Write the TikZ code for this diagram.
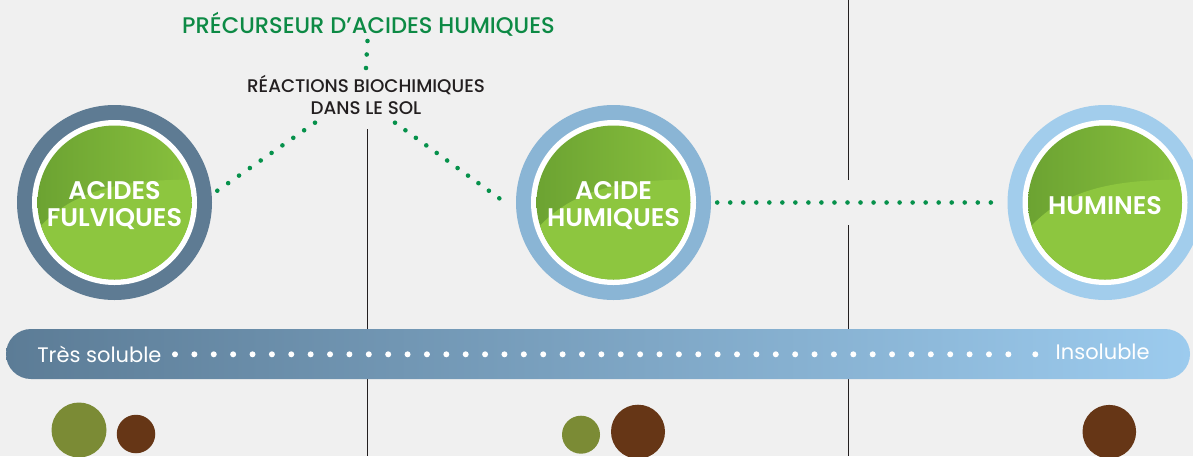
\documentclass[tikz,border=0pt]{standalone}
\usepackage{fontspec}
\setmainfont{Poppins}
\newfontfamily\poppinsmoyen{Poppins Medium}
\newfontfamily\poppinsdemi{Poppins SemiBold}
\usepackage{tikz}
\usetikzlibrary{calc}

\definecolor{fond}{HTML}{F0F0F0}
\definecolor{anneauA}{HTML}{5E7B93}
\definecolor{anneauB}{HTML}{8AB5D5}
\definecolor{anneauC}{HTML}{A2CDEC}
\definecolor{vertA}{HTML}{6CA332}
\definecolor{vertB}{HTML}{88C03D}
\definecolor{vertC}{HTML}{8DC63F}
\definecolor{vertTexte}{HTML}{0D8A45}
\definecolor{pointvert}{HTML}{06914B}
\definecolor{noirTexte}{HTML}{231F20}
\definecolor{barreA}{HTML}{5C7C96}
\definecolor{barreB}{HTML}{9CCBEE}
\definecolor{olive}{HTML}{7B8B35}
\definecolor{brun}{HTML}{663616}

% green disc with its lighter lower part
\newcommand{\disque}[1]{%
	\begin{scope}
		\clip (#1) circle (77);
		\shade[left color=vertA, right color=vertB] ($(#1)+(-77,-77)$) rectangle ($(#1)+(77,77)$);
		\fill[vertC] ($(#1)+(-90,45)$) .. controls ($(#1)+(-50,-20)$) and ($(#1)+(20,-23)$) .. ($(#1)+(90,-23)$) -- ($(#1)+(90,90)$) -- ($(#1)+(-90,90)$) -- cycle;
	\end{scope}}
% row of green dots between two points
\newcommand{\pointille}[3]{%
	\foreach \i in {0,...,#3} {
		\fill[pointvert] ($(#1)!\i/#3!(#2)$) circle (2.3);
		};}

\begin{document}
\begin{tikzpicture}[x=1pt, y=-1pt,
	anneau/.style={circle, minimum size=195, inner sep=0pt},
	titre/.style={text=white, font=\poppinsdemi\fontsize{25.5}{27}\selectfont, align=center, yshift=-3pt},
	soustitre/.style={text=noirTexte, font=\poppinsmoyen\fontsize{18.3}{22}\selectfont, align=center},
	grain/.style={circle, inner sep=0pt}]
\fill[fond] (0,0) rectangle (1193,456);
\useasboundingbox (0,0) rectangle (1193,456);

\draw[noirTexte, line width=1.2] (367.3,129) -- (367.3,456);
\draw[noirTexte, line width=1.2] (848.3,0) -- (848.3,180) (848.3,225) -- (848.3,456);

\node[text=vertTexte, font=\poppinsmoyen\fontsize{22.6}{24}\selectfont] (prec) at (368.5,24) {PRÉCURSEUR D’ACIDES HUMIQUES};
\node[soustitre] (react) at (366,95) {RÉACTIONS BIOCHIMIQUES\\DANS LE SOL};

\node[anneau, fill=anneauA] (fulv) at (114.5,202.5) {};
\node[anneau, fill=anneauB] (humi) at (613.5,202.5) {};
\node[anneau, fill=anneauC] (humn) at (1105,202.5) {};
\foreach \c in {fulv, humi, humn} {
	\fill[white] (\c) circle (82.5);
	\disque{\c}
	};
\node[titre] (fulvT) at (fulv) {ACIDES\\FULVIQUES};
\node[titre] (humiT) at (humi) {ACIDE\\HUMIQUES};
\node[titre] (humnT) at (humn) {HUMINES};

\coordinate (precB) at ($(prec)+(-1,17)$);
\coordinate (reactH) at ($(react)+(0,-27)$);
\coordinate (reactG) at ($(react)+(-51,27.7)$);
\coordinate (reactD) at ($(react)+(29,27.7)$);
\coordinate (fulvD) at ($(fulv)+(102.8,-11.8)$);
\coordinate (humiG) at ($(humi)+(-114.2,-4.2)$);
\coordinate (humiD) at ($(humi.east)+(6,0)$);
\coordinate (humnG) at ($(humn.west)+(-16.5,0)$);
\pointille{precB}{reactH}{2}
\pointille{fulvD}{reactG}{9}
\pointille{reactD}{humiG}{10}
\pointille{humiD}{humnG}{21}

\node[rectangle, rounded corners=25, minimum width=1184, minimum height=50, inner sep=0pt, left color=barreA, right color=barreB] (barre) at (598,354) {};
\node[text=white, font=\fontsize{21}{24}\selectfont, anchor=west] (tres) at ($(barre.west)+(28,0)$) {Très soluble};
\node[text=white, font=\fontsize{21}{24}\selectfont, anchor=east] (insol) at ($(barre.east)+(-37,-2)$) {Insoluble};
\foreach \i in {0,...,43} {
	\fill[white] (175+\i*19.38, 354.3) circle (3);
	};
\fill[white] (1035.3,354.3) circle (3);

\node[grain, fill=olive, minimum size=55] (g1) at (79,430) {};
\node[grain, fill=brun, minimum size=38.5] (g2) at (136,434) {};
\node[grain, fill=olive, minimum size=38] (g3) at (581,434.7) {};
\node[grain, fill=brun, minimum size=54] (g4) at (638,431.7) {};
\node[grain, fill=brun, minimum size=53.6] (g5) at (1109.3,431.7) {};
\end{tikzpicture}
\end{document}
